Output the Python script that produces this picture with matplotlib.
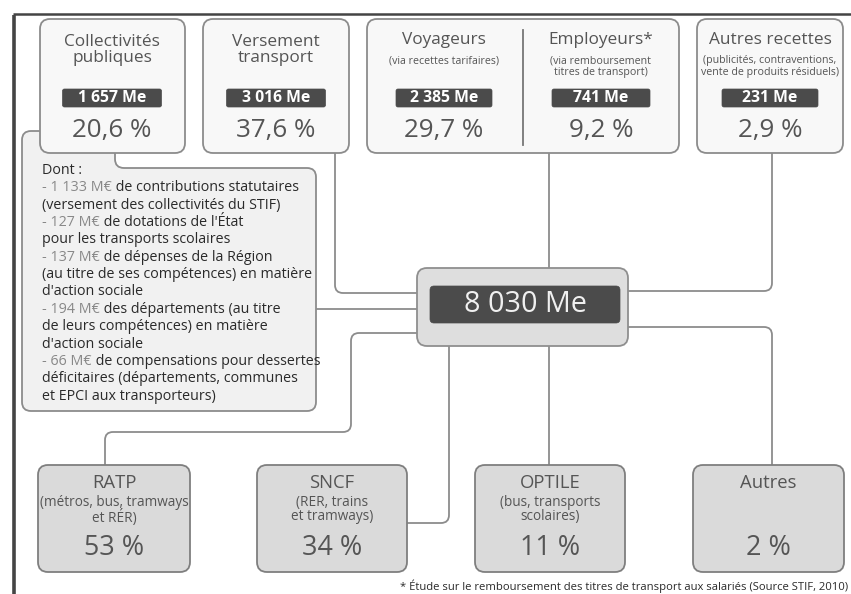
import matplotlib
matplotlib.use("Agg")
import matplotlib.pyplot as plt
from matplotlib.patches import FancyBboxPatch, PathPatch
from matplotlib.path import Path

# ---------------- data ----------------
src_titles = ["Collectivités\npubliques", "Versement\ntransport", "Voyageurs", "Employeurs*", "Autres recettes"]
src_subtitles = ["", "", "(via recettes tarifaires)", "(via remboursement\ntitres de transport)",
                 "(publicités, contraventions,\nvente de produits résiduels)"]
src_amounts = ["1 657 Me", "3 016 Me", "2 385 Me", "741 Me", "231 Me"]
src_percents = ["20,6 %", "37,6 %", "29,7 %", "9,2 %", "2,9 %"]

total_label = "8 030 Me"

dst_titles = ["RATP", "SNCF", "OPTILE", "Autres"]
dst_subtitles = ["(métros, bus, tramways\net RÉR)", "(RER, trains\net tramways)",
                 "(bus, transports\nscolaires)", ""]
dst_percents = ["53 %", "34 %", "11 %", "2 %"]

dont_header = "Dont :"
dont_amounts = ["- 1 133 M€", "- 127 M€", "- 137 M€", "- 194 M€", "- 66 M€"]
dont_texts = [
    [" de contributions statutaires", "(versement des collectivités du STIF)"],
    [" de dotations de l'État", "pour les transports scolaires"],
    [" de dépenses de la Région", "(au titre de ses compétences) en matière", "d'action sociale"],
    [" des départements (au titre", "de leurs compétences) en matière", "d'action sociale"],
    [" de compensations pour dessertes", "déficitaires (départements, communes", "et EPCI aux transporteurs)"],
]
footnote = "* Étude sur le remboursement des titres de transport aux salariés (Source STIF, 2010)"

# ---------------- layout / style ----------------
FONT = "Open Sans"
plt.rcParams["font.family"] = [FONT, "DejaVu Sans"]
GREY_TXT = "#555555"
DARK_TXT = "#2a2a2a"
EDGE = "#8c8c8c"
LINE = "#8c8c8c"
LABEL_BG = "#4b4b4b"

W, H = 851, 594
fig = plt.figure(figsize=(W / 100, H / 100), dpi=100)
ax = fig.add_axes([0, 0, 1, 1])
ax.set_xlim(0, W)
ax.set_ylim(H, 0)
ax.axis("off")


def rpath(pts, r, closed=False):
    """Orthogonal polyline/polygon with rounded corners."""
    n = len(pts)
    verts, codes = [], []

    def corner(i):
        px, py = pts[i]
        ax_, ay_ = pts[i - 1]
        bx, by = pts[(i + 1) % n]

        def unit(dx, dy):
            d = (dx * dx + dy * dy) ** 0.5
            return dx / d, dy / d
        ux, uy = unit(px - ax_, py - ay_)
        vx, vy = unit(bx - px, by - py)
        return (px - ux * r, py - uy * r), (px, py), (px + vx * r, py + vy * r)

    if closed:
        start = None
        for i in range(n):
            a, c, b = corner(i)
            if start is None:
                verts.append(a); codes.append(Path.MOVETO)
                start = a
            else:
                verts.append(a); codes.append(Path.LINETO)
            verts += [c, b]; codes += [Path.CURVE3, Path.CURVE3]
        verts.append(start); codes.append(Path.LINETO)
        verts.append(start); codes.append(Path.CLOSEPOLY)
    else:
        verts.append(pts[0]); codes.append(Path.MOVETO)
        for i in range(1, n - 1):
            a, c, b = corner(i)
            verts.append(a); codes.append(Path.LINETO)
            verts += [c, b]; codes += [Path.CURVE3, Path.CURVE3]
        verts.append(pts[-1]); codes.append(Path.LINETO)
    return Path(verts, codes)


def rbox(x0, y0, x1, y1, fc, ec=EDGE, r=10, lw=1.3, z=3):
    p = FancyBboxPatch((x0, y0), x1 - x0, y1 - y0,
                       boxstyle=f"round,pad=0,rounding_size={r}",
                       fc=fc, ec=ec, lw=lw, zorder=z)
    ax.add_patch(p)


def conn(pts, r=8):
    ax.add_patch(PathPatch(rpath(pts, r), fc="none", ec=LINE, lw=1.3, zorder=1))


# outer frame
ax.plot([14, 14], [H + 2, 15], color="#444444", lw=2.6, zorder=10, solid_capstyle="butt")
ax.plot([13, W], [14, 14], color="#444444", lw=1.8, zorder=10, solid_capstyle="butt")

# connectors
conn([(335, 150), (335, 293), (420, 293)])
conn([(314, 309), (420, 309)])
conn([(549, 150), (549, 270)])
conn([(772, 150), (772, 291), (625, 291)])
conn([(420, 333), (351, 333), (351, 432), (105, 432), (105, 468)])
conn([(449, 345), (449, 523), (404, 523)])
conn([(549, 345), (549, 468)])
conn([(625, 327), (772, 327), (772, 468)])

# "Dont" box with notch
dont_shape = rpath([(22, 131), (115, 131), (115, 168), (316, 168), (316, 411), (22, 411)], 9, closed=True)
ax.add_patch(PathPatch(dont_shape, fc="#f1f1f1", ec=EDGE, lw=1.3, zorder=2))

# source boxes
src_boxes = [(40, 185), (203, 349), (367, 679), (697, 843)]
for (x0, x1) in src_boxes:
    rbox(x0, 19, x1, 153, fc="#f8f8f8")
ax.plot([523, 523], [30, 145], color="#777777", lw=1.3, zorder=4)

src_cx = [112, 276, 444, 601, 770]
label_w = [99, 99, 96, 98, 96]
for i, cx in enumerate(src_cx):
    if src_subtitles[i] == "":
        ax.text(cx, 50.5, src_titles[i], ha="center", va="center", fontsize=12.4,
                color=GREY_TXT, linespacing=1.0, zorder=5)
    else:
        ax.text(cx, 40, src_titles[i], ha="center", va="center", fontsize=12.4,
                color=GREY_TXT, zorder=5)
        ax.text(cx, 55.5, src_subtitles[i], ha="center", va="top", fontsize=7.7,
                color=GREY_TXT, linespacing=1.0, zorder=5)
    rbox(cx - label_w[i] / 2, 89, cx + label_w[i] / 2, 107, fc=LABEL_BG, ec=LABEL_BG, r=2, lw=0.5, z=5)
    ax.text(cx, 98.5, src_amounts[i], ha="center", va="center", fontsize=11.3,
            color="white", fontweight="bold", zorder=6)
    ax.text(cx, 131, src_percents[i], ha="center", va="center", fontsize=18.7,
            color=GREY_TXT, zorder=5)

# centre box
rbox(417, 268, 628, 346, fc="#dedede", ec="#8f8f8f", r=10, z=5)
rbox(430, 286, 620, 323, fc=LABEL_BG, ec=LABEL_BG, r=4, lw=0.5, z=6)
ax.text(525, 305, total_label, ha="center", va="center", fontsize=20.7, color="#f0f0f0", zorder=7)

# Dont text
y = 170.5
fs = 10.3
ax.text(42, y, dont_header, ha="left", va="center", fontsize=fs, color=DARK_TXT, zorder=5)
step = 17.35
for amt, lines in zip(dont_amounts, dont_texts):
    y += step
    t = ax.text(42, y, amt, ha="left", va="center", fontsize=fs, color="#888888", zorder=5)
    ax.annotate(lines[0], xy=(1, 0.5), xycoords=t, ha="left", va="center",
                fontsize=fs, color=DARK_TXT, zorder=5)
    for ln in lines[1:]:
        y += step
        ax.text(42, y, ln, ha="left", va="center", fontsize=fs, color=DARK_TXT, zorder=5)

# destination boxes
dst_boxes = [(38, 190), (257, 407), (475, 625), (693, 844)]
for i, (x0, x1) in enumerate(dst_boxes):
    rbox(x0, 465, x1, 572, fc="#dadada", ec="#7f7f7f", r=10, z=3)
    cx = (x0 + x1) / 2
    ax.text(cx, 483, dst_titles[i], ha="center", va="center", fontsize=13.3,
            color=GREY_TXT, zorder=5)
    if dst_subtitles[i]:
        ax.text(cx, 495, dst_subtitles[i], ha="center", va="top", fontsize=9.8,
                color=GREY_TXT, linespacing=0.95, zorder=5)
    ax.text(cx, 548, dst_percents[i], ha="center", va="center", fontsize=19.4,
            color=GREY_TXT, zorder=5)

# footnote
ax.text(848, 586, footnote, ha="right", va="center", fontsize=8.1, color=DARK_TXT, zorder=5)

fig.savefig("out.png", dpi=100, facecolor="white")
